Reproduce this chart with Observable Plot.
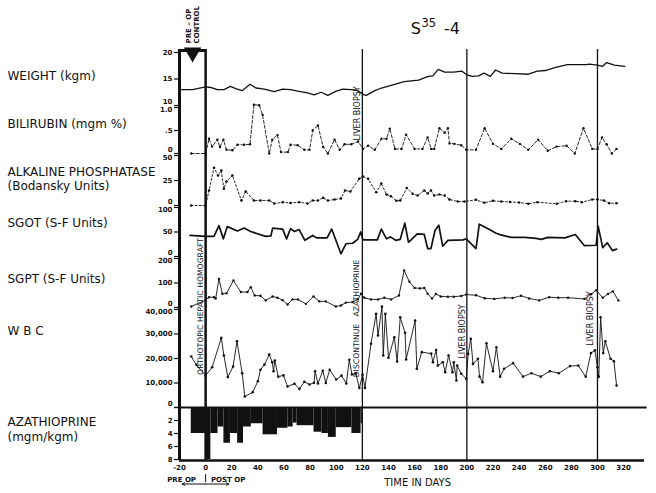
<!DOCTYPE html>
<html>
<head>
<meta charset="utf-8">
<script src="https://cdn.jsdelivr.net/npm/d3@7"></script>
<script src="https://cdn.jsdelivr.net/npm/@observablehq/plot@0.6"></script>
<style>
html,body{margin:0;padding:0;background:#fff;}
#chart{position:relative;width:656px;height:493px;background:#fff;overflow:hidden;}
#chart svg{position:absolute!important;left:0;top:0;background:transparent!important;overflow:visible;max-width:none!important;}
</style>
</head>
<body>
<div id="chart"></div>
<script>
// ---------------- DATA ----------------
const dayTicks = [-20,0,20,40,60,80,100,120,140,160,180,200,220,240,260,280,300,320];
const surgeryDay = [0];
const eventDays = [120, 200, 300];

const weightTicks = [20, 15, 10];
const biliTicks = [1, 0.5, 0];
const biliTickLabels = ["1.0", ".5", "0"];
const alkTicks = [50, 25, 0];
const sgotTicks = [100, 50, 0];
const sgptTicks = [200, 100, 0];
const wbcTicks = [40000, 30000, 20000, 10000, 0];
const wbcTickLabels = ["40,000", "30,000", "20,000", "10,000", "0"];
const azaTicks = [0, 2, 4, 6, 8];
const azaTickLabels = ["", "2", "4", "6", "8"];

// [day, kg]
const weight = [[-20,13.0],[-10,13.0],[0,13.5],[3.8,13.4],[9,13.0],[14,13.0],[19,13.6],[23,13.2],[28,12.8],[34,14.0],
[38.5,13.3],[45,13.1],[52.5,12.6],[59,13.1],[65,13.0],[70.5,12.7],[78,12.4],[83,12.0],[88.5,12.5],[93.6,11.9],
[100,12.7],[105,13.1],[111.5,13.0],[116.7,12.8],[120.5,12.1],[123,11.9],[129.5,12.8],[134.6,13.3],[142,13.8],[152,14.5],
[163,14.8],[170.5,15.5],[174,15.6],[178,16.8],[183,16.3],[190,16.3],[196,16.5],[200,15.8],[204,15.5],[209,15.6],
[213,16.1],[218,15.5],[222,16.7],[227,16.1],[237,16.0],[247,15.9],[254,16.5],[260,16.6],[268,17.2],[277,17.7],
[291,17.7],[294,17.8],[300,17.6],[304,17.4],[307,18.1],[313,17.6],[321,17.4]];

// [day, mgm %]
const bilirubin = [[-11,0],[0,0],[2.6,0.32],[5,0.15],[9,0.3],[11,0.14],[13.6,0.3],[16,0.08],[20.5,0.07],[24.4,0.19],
[29.5,0.19],[34,0.2],[37,1.06],[41,1.05],[43.6,0.84],[48.7,0],[51,0.3],[55,0.4],[57.7,0.03],[63,0.03],
[65,0.19],[70.5,0.18],[75.6,0.08],[79.5,0.08],[82,0.5],[86,0.61],[90,0.14],[93.6,0],[98.7,0.3],[102.6,0.08],
[106.4,0.2],[111.5,0.2],[116.7,0.26],[120.5,0.1],[124.4,0.17],[129.5,0.08],[134.6,0.32],[138.5,0.32],[141,0.54],[145,0.1],
[150,0.1],[153.5,0.41],[160,0.1],[166,0.1],[170,0.35],[172.7,0.1],[175,0.1],[179,0.55],[183,0.45],[185.5,0.55],
[186.7,0.22],[190.5,0.21],[195.7,0.18],[199.5,0.08],[207,0.08],[213.6,0.55],[220,0.21],[226.4,0.1],[234,0.32],[240.5,0.21],
[247,0.08],[254.6,0.3],[262,0.06],[268.6,0.15],[276.3,0.17],[282.6,0],[289.3,0.55],[296,0.1],[300,0.1],[303.5,0.35],
[307,0.2],[311,0],[314.6,0.1]];

// [day, Bodansky units]
const alkPhos = [[-11,0],[0,0],[2.6,15],[6.4,37.7],[9.5,30],[12,35],[14,16.7],[16,24],[20.5,30],[27.4,5],
[30.7,14],[37,5],[42,5],[48.7,5],[52.5,2],[59,3.3],[65,2.5],[71.6,3.3],[78,2],[82,5],
[86,5],[90,7.7],[93.6,5],[98.7,6],[103.6,7],[106.7,15],[110.8,14],[117.6,26.7],[120.5,29],[124.4,26.7],
[130.6,13.3],[134.5,22],[138.5,11],[141.8,9.3],[146,4.7],[149,5],[154,17.5],[158.5,11.7],[162.3,10],[167.4,15],
[170,12],[172.5,15],[175,10],[179,11],[183,10],[186.7,6],[193,4],[198.2,4],[207,5.7],[213.4,2.7],
[220,4.7],[226.4,4],[233,3.5],[240,3],[247,1.7],[254,3.3],[269,1.7],[276,4.3],[283,4.3],[288,3.3],
[296,6],[300,6],[305,5],[309,2.3],[314.6,2.3]];

// [day, S-F units]
const sgot = [[-12,43],[0,41],[6.4,41],[10.2,63],[13.6,36],[16.6,61],[24.4,52],[29.5,58],[34.5,51],[46,41],
[50,42],[51.3,58],[59,56],[62,36],[65,57],[68,51],[71.6,55],[76,33],[82,43],[85,38],
[89,38],[93,38],[96.5,56],[103.6,5.5],[107.4,26],[112.5,27],[116.4,35],[118.7,50],[120.5,34],[131.5,34],
[134.5,56],[138.5,36],[141.5,40],[145.5,33],[149,35],[152.5,68],[155.3,29],[162,46],[167.4,45],[170,16],
[172.5,16],[175.6,53],[178.5,64],[181.5,21],[185.5,33],[197,34],[199.5,36],[207,16],[209.5,66],[218,54],
[222,48],[226,44],[234,39],[244,39],[253,37],[257,35],[262,39],[275,38],[283,45],[290,22],
[299,23],[300.5,62],[304,18],[307.5,28],[311.5,12],[314.6,15]];

// [day, S-F units]
const sgpt = [[-11,4],[0,30],[2.6,42],[6.4,42],[7.7,37],[10.2,117],[12.8,56],[16,58],[21.3,110],[27,63],
[32,63],[34.5,83],[37.6,49],[42,48],[46,29],[51.3,45],[55,40],[59,30],[62.7,12],[66.5,33],
[70.6,33],[76.8,15],[82.6,45],[87,25],[92,25],[99.7,4],[103.6,8],[107.4,20],[112.5,22],[116.4,33],
[119,56],[121.5,40],[126.6,33],[132,33],[136.8,40],[142,33],[148,49],[152,151],[156,105],[160,80],
[164,78],[167.4,80],[170,56],[173.3,37],[176.3,55],[180,45],[185.5,44],[190,44],[195.7,47],[199.5,53],
[207,50],[213.6,38],[221,35],[229,40],[235,39],[241.5,48],[247.7,37],[255.4,29],[263,42],[270,40],
[277.4,40],[290,35],[295,54],[299,70],[304,40],[308,55],[311.8,66],[316,29]];

// [day, cells]
const wbc = [[-11,20800],[-7,17400],[0,13000],[5,16400],[12,28400],[14,21200],[17,12400],[21,16700],[24,27000],[28,14000],
[30,4500],[36,6200],[40,10700],[42,15400],[45,17500],[48.7,21600],[51,18500],[52,14800],[53,19200],[55.6,12600],
[59.6,13100],[62.7,8600],[68,9700],[71.8,7600],[75.6,10500],[79.5,9400],[83,10100],[83.8,14800],[86,9800],[89.7,15000],
[92,10000],[95,15400],[100,11400],[104,13000],[107.7,9800],[110,19500],[112,13500],[115,13800],[117.7,8000],[120.2,13500],
[122,8000],[126.6,26000],[130.5,38200],[132,29400],[135,41200],[136,21200],[137.6,38200],[140,20300],[144.5,28700],[146.6,18800],
[149,36800],[152.7,30500],[153.5,19600],[160.4,35500],[161.7,15800],[165.5,22600],[172.7,22000],[174,18500],[176.5,23500],[177.8,17100],
[181.6,18500],[183.4,14400],[186,21200],[189,14400],[190,18500],[192,11000],[192.6,17100],[195.7,13800],[199.5,11700],[201,21900],
[203,28000],[204.7,17800],[208.5,19900],[209.7,12600],[212,10300],[215,26200],[220,14800],[222.6,24600],[225.5,12600],[228.5,15800],
[235.4,18100],[243,12600],[249.4,14000],[256.6,12600],[263.5,14800],[270.4,14000],[279,16900],[285.3,17100],[291,12600],[295,22200],
[298,23300],[300,16400],[301,12600],[302.4,36800],[304.4,22200],[306,27000],[310,19900],[312.6,18900],[314.6,9000]];

// [start day, end day, mgm/kgm]
const azathioprine = [[-11,0,4],[0,4,8],[4,9.5,4],[9.5,14,3],[14,19,5.5],[19,24.5,4],[24.5,29,5.5],[29,35,3],[35,44,2.5],[44,55,4.2],
[55,63,3.2],[63,67,3],[67,70,2.4],[70,83,2.8],[83,89,3.8],[89,94,4],[94,100,4.6],[100,112,3.1],[112,119,4],[119,120,2.5]];

const panelLabels = [
  {y: 79, text: "WEIGHT (kgm)"},
  {y: 127, text: "BILIRUBIN (mgm %)"},
  {y: 175, text: "ALKALINE PHOSPHATASE"},
  {y: 189.5, text: "(Bodansky Units)"},
  {y: 226.5, text: "SGOT (S-F Units)"},
  {y: 282, text: "SGPT (S-F Units)"},
  {y: 334, text: "W B C"},
  {y: 425.5, text: "AZATHIOPRINE"},
  {y: 440, text: "(mgm/kgm)"}
];

// ---------------- DRAWING ----------------
const INK = "#111";
const FONT = "DejaVu Sans";
const xDomain = [-20, 336];
const layout = {width: 656, height: 493, marginLeft: 179, marginRight: 12, marginTop: 49, marginBottom: 33};
const svgStyle = {background: "transparent", overflow: "visible", fontFamily: FONT};
const P = a => a.map(([x, y]) => ({x, y}));
const chart = document.getElementById("chart");

function panel(spec) {
  const {domain, range, ticks, labels, marks, top, bottom} = spec;
  const lo = Math.min(...domain), hi = Math.max(...domain);
  const m = [Plot.axisY({ticks, tickSize: 5, fill: "none", stroke: INK, strokeWidth: 1.2})];
  ticks.forEach((v, i) => {
    const t = labels ? labels[i] : String(v);
    if (!t) return;
    const dy = top && v === hi ? 2.6 : bottom && v === lo ? -3.6 : 0;
    m.push(Plot.text([v], {y: d => d, text: () => t, frameAnchor: "left", textAnchor: "end",
      dx: -7, dy, fontSize: 7, fontWeight: "bold", fill: INK, fontFamily: FONT}));
  });
  return Plot.plot({...layout, x: {domain: xDomain, axis: null}, y: {domain, range},
    style: svgStyle, marks: [...marks, ...m]});
}

// base layer: frame, event lines, time axis, annotations
const rot = (x, dx, y, text, fontSize = 8) =>
  Plot.text([{x, y}], {x: "x", y: "y", text: () => text, rotate: -90, dx, textAnchor: "middle",
    lineAnchor: "bottom", fontSize, fill: INK, fontFamily: FONT});

const base = Plot.plot({...layout, x: {domain: xDomain}, y: {type: "identity", axis: null}, style: svgStyle, marks: [
  Plot.ruleX([xDomain[0]], {stroke: INK, strokeWidth: 3}),
  Plot.ruleX(surgeryDay, {stroke: INK, strokeWidth: 2.5}),
  Plot.ruleX(eventDays, {stroke: INK, strokeWidth: 1.3}),
  Plot.ruleY([layout.height - layout.marginBottom], {x1: xDomain[0], x2: xDomain[1], stroke: INK, strokeWidth: 2.5}),
  Plot.ruleY([layout.marginTop + 1], {x1: xDomain[0], x2: surgeryDay[0], stroke: INK, strokeWidth: 3}),
  Plot.dot([{x: -10, y: 52}], {x: "x", y: "y", symbol: "triangle", rotate: 180, r: 6.5, fill: INK, stroke: "none"}),
  Plot.axisX({ticks: dayTicks, tickSize: 0, tickPadding: 5, tickFormat: d => String(d), fontSize: 7,
    fontWeight: "bold", fill: INK, label: null, fontFamily: FONT}),
  Plot.text([{x: -10.4, y: 43}], {x: "x", y: "y", text: () => "PRE – OP\nCONTROL", rotate: -90,
    textAnchor: "start", lineAnchor: "middle", lineHeight: 1.15, fontSize: 7, fontWeight: "bold", fill: INK, fontFamily: FONT}),
  rot(120, -2, 113, "LIVER BIOPSY"),
  rot(0, -2.5, 306, "ORTHOTOPIC HEPATIC HOMOGRAFT", 7.7),
  rot(120, -3, 318, "DISCONTINUE   AZATHIOPRINE", 7.7),
  rot(200, -2, 331, "LIVER BIOPSY"),
  rot(300, -4, 318, "LIVER BIOPSY"),
  Plot.text(panelLabels, {y: "y", text: "text", frameAnchor: "left", dx: -172, textAnchor: "start",
    lineAnchor: "bottom", fontSize: 12, fill: INK, fontFamily: FONT}),
  Plot.text([{x: 157, y: 33.3, t: "S"}, {x: 182.5, y: 33.3, t: "-4"}],
    {x: "x", y: "y", text: "t", fontSize: 16, textAnchor: "start", lineAnchor: "bottom", fill: INK, fontFamily: FONT}),
  Plot.text([{x: 165.3, y: 26, t: "35"}],
    {x: "x", y: "y", text: "t", fontSize: 11.5, textAnchor: "start", lineAnchor: "bottom", fill: INK, fontFamily: FONT}),
  Plot.text([{x: -18.4, y: 481, t: "PRE OP"}, {x: 17.2, y: 481, t: "POST OP"}],
    {x: "x", y: "y", text: "t", fontSize: 7, fontWeight: "bold", lineAnchor: "bottom", fill: INK, fontFamily: FONT}),
  Plot.ruleX(surgeryDay, {y1: () => 474, y2: () => 482, stroke: INK, strokeWidth: 1}),
  Plot.arrow([{x1: 0, x2: -17.9, y: 483.5}, {x1: 0, x2: 17.8, y: 483.5}],
    {x1: "x1", x2: "x2", y1: "y", y2: "y", stroke: INK, strokeWidth: 1, headLength: 4}),
  Plot.text([{x: 162.3, y: 485.7}], {x: "x", y: "y", text: () => "TIME IN DAYS", fontSize: 10,
    lineAnchor: "bottom", fill: INK, fontFamily: FONT})
]});
chart.appendChild(base);

const panels = [
  {domain: [10, 20], range: [105, 52], ticks: weightTicks, bottom: true, marks: [
    Plot.line(P(weight), {x: "x", y: "y", stroke: INK, strokeWidth: 1.3})]},
  {domain: [0, 1], range: [153, 107], ticks: biliTicks, labels: biliTickLabels, top: true, bottom: true, marks: [
    Plot.line(P(bilirubin), {x: "x", y: "y", stroke: INK, strokeWidth: 0.9, strokeDasharray: "3,2"}),
    Plot.dot(P(bilirubin), {x: "x", y: "y", r: 1.2, fill: INK})]},
  {domain: [0, 50], range: [205, 155], ticks: alkTicks, top: true, bottom: true, marks: [
    Plot.line(P(alkPhos), {x: "x", y: "y", stroke: INK, strokeWidth: 0.9, strokeDasharray: "2,2"}),
    Plot.dot(P(alkPhos), {x: "x", y: "y", r: 1.3, fill: INK})]},
  {domain: [0, 100], range: [256, 207], ticks: sgotTicks, top: true, bottom: true, marks: [
    Plot.line(P(sgot), {x: "x", y: "y", stroke: INK, strokeWidth: 1.7})]},
  {domain: [0, 200], range: [307, 258], ticks: sgptTicks, top: true, bottom: true, marks: [
    Plot.line(P(sgpt), {x: "x", y: "y", stroke: INK, strokeWidth: 0.9}),
    Plot.dot(P(sgpt), {x: "x", y: "y", r: 1.2, fill: INK})]},
  {domain: [0, 40000], range: [407, 309], ticks: wbcTicks, labels: wbcTickLabels, top: true, bottom: true, marks: [
    Plot.ruleY([0], {x1: xDomain[0], x2: 338, stroke: INK, strokeWidth: 2}),
    Plot.line(P(wbc), {x: "x", y: "y", stroke: INK, strokeWidth: 0.9}),
    Plot.dot(P(wbc), {x: "x", y: "y", r: 1.3, fill: INK})]},
  {domain: [0, 8], range: [407, 459], ticks: azaTicks, labels: azaTickLabels, marks: [
    Plot.rect(azathioprine, {x1: d => d[0], x2: d => d[1], y1: () => 0, y2: d => d[2], fill: INK})]}
];
for (const p of panels) chart.appendChild(panel(p));
</script>
</body>
</html>
